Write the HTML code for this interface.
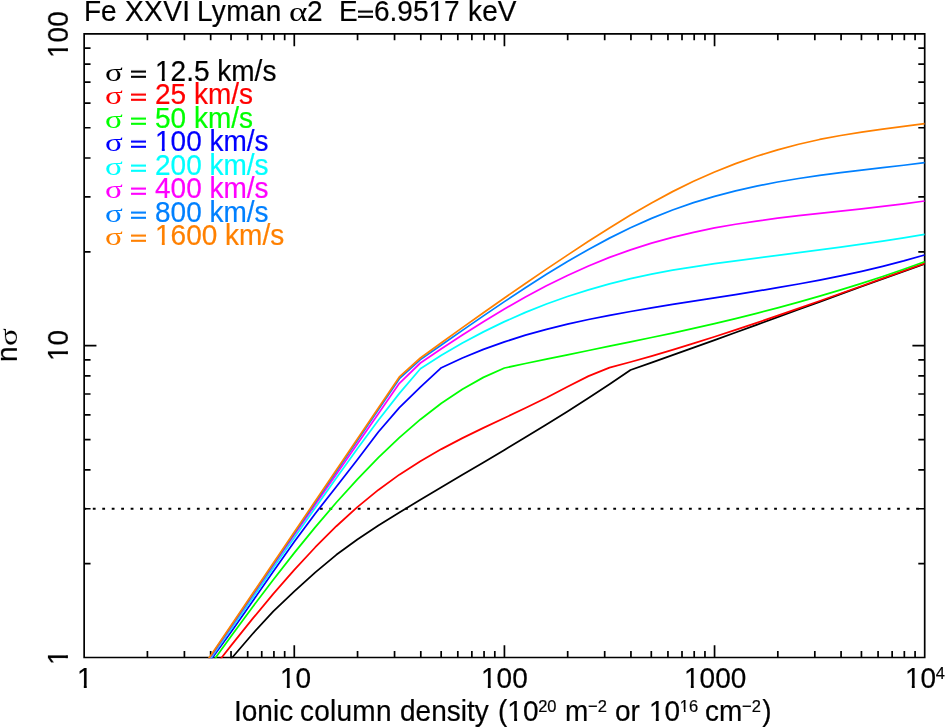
<!DOCTYPE html>
<html><head><meta charset="utf-8"><title>Fe XXVI Lyman alpha2</title>
<style>
html,body{margin:0;padding:0;background:#fff;}
body{width:945px;height:728px;position:relative;overflow:hidden;-webkit-font-smoothing:antialiased;font-family:"Liberation Sans",sans-serif;color:#000;}
.t{position:absolute;white-space:pre;line-height:1;font-size:28px;transform-origin:0 23.7px;transform:scaleY(1.045);will-change:transform;-webkit-text-stroke:0.2px;}
.g{-webkit-text-stroke:0;font-family:"Liberation Serif",serif;display:inline-block;line-height:0;transform-origin:0 50%;}
.sg{font-size:25px;transform:scaleX(1.32);}
.al{font-size:26.5px;transform:scaleX(1.33);}
.eq{display:inline-block;width:14.9px;height:3.64px;border-top:2.25px solid;border-bottom:2.25px solid;margin-bottom:2.8px;vertical-align:baseline;}
.rot{transform-origin:0 0;transform:rotate(-90deg) scaleY(1.045);margin-left:0px;}
.o{display:inline-block;line-height:0;clip-path:polygon(0 -1em,0.6em -1em,0.6em 0.21em,0.348em 0.21em,0.348em 0.5em,0.243em 0.5em,0.243em 0.21em,0 0.21em);}
.sp{font-size:16.5px;position:relative;top:-8.7px;line-height:0;vertical-align:baseline;margin-left:-0.3px;}
</style></head><body>
<svg width="945" height="728" viewBox="0 0 945 728" style="position:absolute;left:0;top:0">
<defs><clipPath id="c"><rect x="83.30" y="33.05" width="842.25" height="625.30"/></clipPath></defs>
<line x1="84.15" y1="508.73" x2="924.70" y2="508.73" stroke="#000" stroke-width="1.90" stroke-dasharray="2.8 6.663" stroke-dashoffset="0.81"/>
<path d="M84.15 33.90 H924.70 V657.50 H84.15 Z M147.41 657.50 v-6.40 M147.41 33.90 v6.40 M184.41 657.50 v-6.40 M184.41 33.90 v6.40 M210.67 657.50 v-6.40 M210.67 33.90 v6.40 M231.03 657.50 v-6.40 M231.03 33.90 v6.40 M247.67 657.50 v-6.40 M247.67 33.90 v6.40 M261.74 657.50 v-6.40 M261.74 33.90 v6.40 M273.92 657.50 v-6.40 M273.92 33.90 v6.40 M284.67 657.50 v-6.40 M284.67 33.90 v6.40 M294.29 657.50 v-12.30 M294.29 33.90 v12.30 M357.55 657.50 v-6.40 M357.55 33.90 v6.40 M394.55 657.50 v-6.40 M394.55 33.90 v6.40 M420.80 657.50 v-6.40 M420.80 33.90 v6.40 M441.17 657.50 v-6.40 M441.17 33.90 v6.40 M457.81 657.50 v-6.40 M457.81 33.90 v6.40 M471.87 657.50 v-6.40 M471.87 33.90 v6.40 M484.06 657.50 v-6.40 M484.06 33.90 v6.40 M494.81 657.50 v-6.40 M494.81 33.90 v6.40 M504.43 657.50 v-12.30 M504.43 33.90 v12.30 M567.68 657.50 v-6.40 M567.68 33.90 v6.40 M604.69 657.50 v-6.40 M604.69 33.90 v6.40 M630.94 657.50 v-6.40 M630.94 33.90 v6.40 M651.30 657.50 v-6.40 M651.30 33.90 v6.40 M667.94 657.50 v-6.40 M667.94 33.90 v6.40 M682.01 657.50 v-6.40 M682.01 33.90 v6.40 M694.20 657.50 v-6.40 M694.20 33.90 v6.40 M704.95 657.50 v-6.40 M704.95 33.90 v6.40 M714.56 657.50 v-12.30 M714.56 33.90 v12.30 M777.82 657.50 v-6.40 M777.82 33.90 v6.40 M814.82 657.50 v-6.40 M814.82 33.90 v6.40 M841.08 657.50 v-6.40 M841.08 33.90 v6.40 M861.44 657.50 v-6.40 M861.44 33.90 v6.40 M878.08 657.50 v-6.40 M878.08 33.90 v6.40 M892.15 657.50 v-6.40 M892.15 33.90 v6.40 M904.34 657.50 v-6.40 M904.34 33.90 v6.40 M915.08 657.50 v-6.40 M915.08 33.90 v6.40 M84.15 563.64 h6.40 M924.70 563.64 h-6.40 M84.15 508.73 h6.40 M924.70 508.73 h-6.40 M84.15 469.78 h6.40 M924.70 469.78 h-6.40 M84.15 439.56 h6.40 M924.70 439.56 h-6.40 M84.15 414.87 h6.40 M924.70 414.87 h-6.40 M84.15 394.00 h6.40 M924.70 394.00 h-6.40 M84.15 375.92 h6.40 M924.70 375.92 h-6.40 M84.15 359.97 h6.40 M924.70 359.97 h-6.40 M84.15 345.70 h12.30 M924.70 345.70 h-12.30 M84.15 251.84 h6.40 M924.70 251.84 h-6.40 M84.15 196.93 h6.40 M924.70 196.93 h-6.40 M84.15 157.98 h6.40 M924.70 157.98 h-6.40 M84.15 127.76 h6.40 M924.70 127.76 h-6.40 M84.15 103.07 h6.40 M924.70 103.07 h-6.40 M84.15 82.20 h6.40 M924.70 82.20 h-6.40 M84.15 64.12 h6.40 M924.70 64.12 h-6.40 M84.15 48.17 h6.40 M924.70 48.17 h-6.40" fill="none" stroke="#000" stroke-width="1.70" stroke-linecap="butt" stroke-linejoin="miter"/>
<g clip-path="url(#c)" fill="none" stroke-width="1.75" stroke-linejoin="round" stroke-linecap="butt">
<path d="M228.87 661.50 L232.30 657.50 L252.26 634.22 L273.27 611.40 L294.29 591.46 L315.30 572.34 L336.32 554.81 L357.33 539.46 L378.34 525.59 L399.36 512.48 L420.37 499.75 L441.38 487.23 L462.40 474.81 L483.41 462.40 L504.43 449.93 L525.44 437.33 L546.45 424.54 L567.47 411.48 L588.48 398.08 L609.49 384.28 L630.51 370.00 L651.52 362.63 L672.53 355.19 L693.55 347.67 L714.56 340.10 L735.58 332.48 L756.59 324.83 L777.60 317.16 L798.62 309.48 L819.63 301.81 L840.65 294.15 L861.66 286.53 L882.67 278.95 L903.69 271.42 L924.60 264.00" stroke="#000000"/>
<path d="M218.56 661.50 L221.70 657.50 L231.25 645.34 L252.26 619.15 L273.27 593.92 L294.29 569.88 L315.30 547.24 L336.32 526.24 L357.33 507.08 L378.34 489.92 L399.36 474.65 L420.37 461.14 L441.38 449.10 L462.40 438.15 L483.41 427.91 L504.43 418.00 L525.44 408.06 L546.45 397.70 L567.47 386.69 L588.48 376.10 L609.49 367.60 L630.51 361.98 L651.52 356.07 L672.53 349.87 L693.55 343.43 L714.56 336.76 L735.58 329.90 L756.59 322.86 L777.60 315.67 L798.62 308.36 L819.63 300.96 L840.65 293.48 L861.66 285.96 L882.67 278.41 L903.69 270.87 L924.60 263.40" stroke="#ff0000"/>
<path d="M212.81 661.50 L215.70 657.50 L231.25 635.99 L252.26 607.47 L273.27 579.71 L294.29 552.86 L315.30 527.08 L336.32 502.52 L357.33 479.32 L378.34 457.65 L399.36 437.64 L420.37 419.46 L441.38 403.26 L462.40 389.18 L483.41 377.37 L504.43 368.00 L525.44 363.49 L546.45 359.09 L567.47 354.77 L588.48 350.49 L609.49 346.21 L630.51 341.90 L651.52 337.51 L672.53 333.03 L693.55 328.39 L714.56 323.58 L735.58 318.57 L756.59 313.34 L777.60 307.88 L798.62 302.17 L819.63 296.18 L840.65 289.92 L861.66 283.35 L882.67 276.46 L903.69 269.24 L924.60 261.70" stroke="#00ff00"/>
<path d="M209.71 661.50 L212.60 657.50 L231.25 631.73 L252.26 601.75 L273.27 571.51 L294.29 541.82 L315.30 513.45 L336.32 486.83 L357.33 459.76 L378.34 431.97 L399.36 407.66 L420.37 387.05 L441.38 367.70 L462.40 358.00 L483.41 349.42 L504.43 341.86 L525.44 335.19 L546.45 329.32 L567.47 324.12 L588.48 319.50 L609.49 315.32 L630.51 311.49 L651.52 307.90 L672.53 304.47 L693.55 301.13 L714.56 297.84 L735.58 294.54 L756.59 291.17 L777.60 287.68 L798.62 284.00 L819.63 280.09 L840.65 275.88 L861.66 271.32 L882.67 266.35 L903.69 260.92 L924.60 255.00" stroke="#0000ff"/>
<path d="M208.53 661.50 L211.30 657.50 L231.25 628.74 L252.26 598.38 L273.27 568.05 L294.29 537.84 L315.30 507.81 L336.32 478.07 L357.33 448.73 L378.34 420.27 L399.36 393.37 L420.37 368.70 L441.38 355.36 L462.40 343.10 L483.41 331.88 L504.43 321.66 L525.44 312.38 L546.45 304.01 L567.47 296.50 L588.48 289.80 L609.49 283.88 L630.51 278.68 L651.52 274.16 L672.53 270.23 L693.55 266.78 L714.56 263.69 L735.58 260.84 L756.59 258.13 L777.60 255.43 L798.62 252.72 L819.63 249.96 L840.65 247.11 L861.66 244.15 L882.67 241.04 L903.69 237.77 L924.60 234.30" stroke="#00ffff"/>
<path d="M207.69 661.50 L210.40 657.50 L231.25 626.71 L252.26 595.91 L273.27 565.31 L294.29 534.86 L315.30 504.52 L336.32 474.23 L357.33 443.97 L378.34 413.67 L399.36 383.30 L420.37 363.00 L441.38 348.73 L462.40 334.93 L483.41 321.67 L504.43 309.02 L525.44 297.05 L546.45 285.84 L567.47 275.46 L588.48 265.98 L609.49 257.43 L630.51 249.82 L651.52 243.12 L672.53 237.30 L693.55 232.29 L714.56 227.97 L735.58 224.25 L756.59 221.02 L777.60 218.19 L798.62 215.65 L819.63 213.31 L840.65 211.06 L861.66 208.80 L882.67 206.44 L903.69 203.87 L924.60 201.00" stroke="#ff00ff"/>
<path d="M207.18 661.50 L209.90 657.50 L399.36 378.70 L420.37 359.60 L441.38 344.98 L462.40 330.37 L483.41 315.88 L504.43 301.64 L525.44 287.76 L546.45 274.34 L567.47 261.52 L588.48 249.41 L609.49 238.11 L630.51 227.72 L651.52 218.34 L672.53 210.00 L693.55 202.66 L714.56 196.29 L735.58 190.80 L756.59 186.07 L777.60 182.01 L798.62 178.49 L819.63 175.42 L840.65 172.66 L861.66 170.12 L882.67 167.69 L903.69 165.25 L924.60 162.70" stroke="#0080ff"/>
<path d="M206.69 661.50 L209.40 657.50 L399.36 376.90 L420.37 358.00 L441.38 342.76 L462.40 327.65 L483.41 312.71 L504.43 297.96 L525.44 283.43 L546.45 269.14 L567.47 255.11 L588.48 241.33 L609.49 227.90 L630.51 215.03 L651.52 202.90 L672.53 191.63 L693.55 181.30 L714.56 171.98 L735.58 163.65 L756.59 156.27 L777.60 149.81 L798.62 144.23 L819.63 139.48 L840.65 135.50 L861.66 132.10 L882.67 129.12 L903.69 126.34 L924.60 123.60" stroke="#ff8000"/>
</g>
</svg>
<div class="t" id="t1" style="left:83.90px;top:-2.10px;">Fe</div>
<div class="t" id="t2" style="left:124.97px;top:-2.10px;letter-spacing:0.4px;">XXVI</div>
<div class="t" id="t3" style="left:197.00px;top:-2.10px;letter-spacing:0.3px;">Lyman</div>
<div class="t" id="t4" style="left:288.93px;top:-2.10px;"><span class="g al">α</span></div>
<div class="t" id="t5" style="left:306.59px;top:-2.10px;">2</div>
<div class="t" id="t6a" style="left:338.80px;top:-2.10px;">E</div>
<div class="t" style="left:358.1px;top:-2.10px"><span class="eq"></span></div>
<div class="t" id="t6c" style="left:373.88px;top:-2.10px;">6.95<span class="o">1</span>7</div>
<div class="t" id="t7" style="left:467.91px;top:-2.10px;letter-spacing:0.15px;">keV</div>
<div class="t" id="xl1" style="left:234.12px;top:697.90px;">Ionic</div>
<div class="t" id="xl2" style="left:300.11px;top:697.90px;letter-spacing:0.25px;">column</div>
<div class="t" id="xl3" style="left:399.52px;top:697.90px;">density</div>
<div class="t" id="xl4" style="left:497.56px;top:697.90px;">(<span class="o">1</span>0<span class="sp">20</span></div>
<div class="t" id="xl5" style="left:564.64px;top:697.90px;">m<span class="sp">−2</span></div>
<div class="t" id="xl6" style="left:615.32px;top:697.90px;">or</div>
<div class="t" id="xl7" style="left:649.01px;top:697.90px;"><span class="o">1</span>0<span class="sp"><span class="o">1</span>6</span></div>
<div class="t" id="xl8" style="left:705.41px;top:697.90px;">cm<span class="sp">−2</span><span style="margin-left:1.4px">)</span></div>
<div class="t" id="x1" style="left:77.31px;top:664.90px;"><span class="o">1</span></div>
<div class="t" id="x10" style="left:280.31px;top:664.90px;"><span class="o">1</span>0</div>
<div class="t" id="x100" style="left:481.41px;top:664.90px;"><span class="o">1</span>00</div>
<div class="t" id="x1000" style="left:684.11px;top:664.90px;"><span class="o">1</span>000</div>
<div class="t" id="x1e4" style="left:904.51px;top:664.90px;"><span class="o">1</span>0<span class="sp">4</span></div>
<div class="t" id="ls0" style="left:104.93px;top:57.90px;color:#000000;"><span class="g sg">σ</span></div>
<div class="t" style="left:131.0px;top:57.90px;color:#000000"><span class="eq"></span></div>
<div class="t" id="lv0" style="left:154.61px;top:57.90px;color:#000000;"><span class="o">1</span>2.5 km/s</div>
<div class="t" id="ls1" style="left:104.93px;top:80.90px;color:#ff0000;"><span class="g sg">σ</span></div>
<div class="t" style="left:131.0px;top:80.90px;color:#ff0000"><span class="eq"></span></div>
<div class="t" id="lv1" style="left:154.61px;top:80.90px;color:#ff0000;">25 km/s</div>
<div class="t" id="ls2" style="left:104.93px;top:104.90px;color:#00ff00;"><span class="g sg">σ</span></div>
<div class="t" style="left:131.0px;top:104.90px;color:#00ff00"><span class="eq"></span></div>
<div class="t" id="lv2" style="left:154.61px;top:104.90px;color:#00ff00;">50 km/s</div>
<div class="t" id="ls3" style="left:104.93px;top:127.90px;color:#0000ff;"><span class="g sg">σ</span></div>
<div class="t" style="left:131.0px;top:127.90px;color:#0000ff"><span class="eq"></span></div>
<div class="t" id="lv3" style="left:154.61px;top:127.90px;color:#0000ff;"><span class="o">1</span>00 km/s</div>
<div class="t" id="ls4" style="left:104.93px;top:151.90px;color:#00ffff;"><span class="g sg">σ</span></div>
<div class="t" style="left:131.0px;top:151.90px;color:#00ffff"><span class="eq"></span></div>
<div class="t" id="lv4" style="left:154.61px;top:151.90px;color:#00ffff;">200 km/s</div>
<div class="t" id="ls5" style="left:104.93px;top:174.90px;color:#ff00ff;"><span class="g sg">σ</span></div>
<div class="t" style="left:131.0px;top:174.90px;color:#ff00ff"><span class="eq"></span></div>
<div class="t" id="lv5" style="left:154.61px;top:174.90px;color:#ff00ff;">400 km/s</div>
<div class="t" id="ls6" style="left:104.93px;top:198.90px;color:#0080ff;"><span class="g sg">σ</span></div>
<div class="t" style="left:131.0px;top:198.90px;color:#0080ff"><span class="eq"></span></div>
<div class="t" id="lv6" style="left:154.61px;top:198.90px;color:#0080ff;">800 km/s</div>
<div class="t" id="ls7" style="left:104.93px;top:221.90px;color:#ff8000;"><span class="g sg">σ</span></div>
<div class="t" style="left:131.0px;top:221.90px;color:#ff8000"><span class="eq"></span></div>
<div class="t" id="lv7" style="left:154.61px;top:221.90px;color:#ff8000;"><span class="o">1</span>600 km/s</div>
<div class="t rot" id="y1" style="left:43.60px;top:665.39px;"><span class="o">1</span></div>
<div class="t rot" id="y10" style="left:43.60px;top:361.49px;"><span class="o">1</span>0</div>
<div class="t rot" id="y100" style="left:43.60px;top:57.99px;"><span class="o">1</span>00</div>
<div class="t rot" id="yl" style="left:-7.10px;top:362.46px;">n<span class="g sg">σ</span></div>
</body></html>
